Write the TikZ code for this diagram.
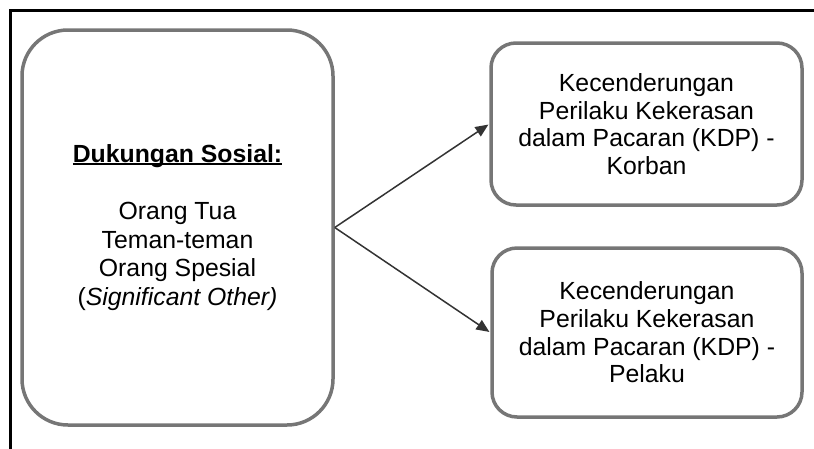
\documentclass[tikz,border=0pt]{standalone}
\usepackage{fontspec}
\setmainfont{Liberation Sans}
\usetikzlibrary{arrows.meta}
\definecolor{boxgray}{HTML}{767676}
\definecolor{arrowgray}{HTML}{333333}
\newlength\myulwd
\newcommand\myul[1]{\settowidth{\myulwd}{#1}\makebox[0pt][l]{\rule[-2.6pt]{\myulwd}{1.6pt}}#1}
\tikzset{
  framebox/.style={draw=boxgray, line width=3.5pt, align=center, inner sep=0pt, text=black},
  connector/.style={draw=arrowgray, line width=1.5pt, -{Triangle[length=13pt,width=11pt]}, shorten >=1pt},
  frameline/.style={draw=black, line width=3pt}
}
\begin{document}
\begin{tikzpicture}[x=1pt,y=-1pt]
\useasboundingbox (0,0) rectangle (814,448);
\coordinate (fbl) at (10,449);
\coordinate (ftl) at (10,10);
\coordinate (ftr) at (815,10);
\draw[frameline] (fbl) -- (ftl) -- (ftr);
\node[framebox, font=\fontsize{24.8}{28.6}\selectfont, rounded corners=46pt, minimum width=311pt, minimum height=395pt] (L) at (177.5,227.5)
  {\myul{\textbf{Dukungan Sosial:}}\\[28.6pt]Orang Tua\\Teman-teman\\Orang Spesial\\(\textit{Significant Other)}};
\node[framebox, font=\fontsize{24.8}{27.6}\selectfont, rounded corners=25pt, minimum width=311pt, minimum height=162pt] (A) at (646.5,124)
  {Kecenderungan\\Perilaku Kekerasan\\dalam Pacaran (KDP) -\\Korban};
\node[framebox, font=\fontsize{24.8}{27.6}\selectfont, rounded corners=25pt, minimum width=310pt, minimum height=169pt] (B) at (647,332.5)
  {Kecenderungan\\Perilaku Kekerasan\\dalam Pacaran (KDP) -\\Pelaku};
\draw[connector] (L.east) -- (A.west);
\draw[connector] (L.east) -- (B.west);
\end{tikzpicture}
\end{document}
